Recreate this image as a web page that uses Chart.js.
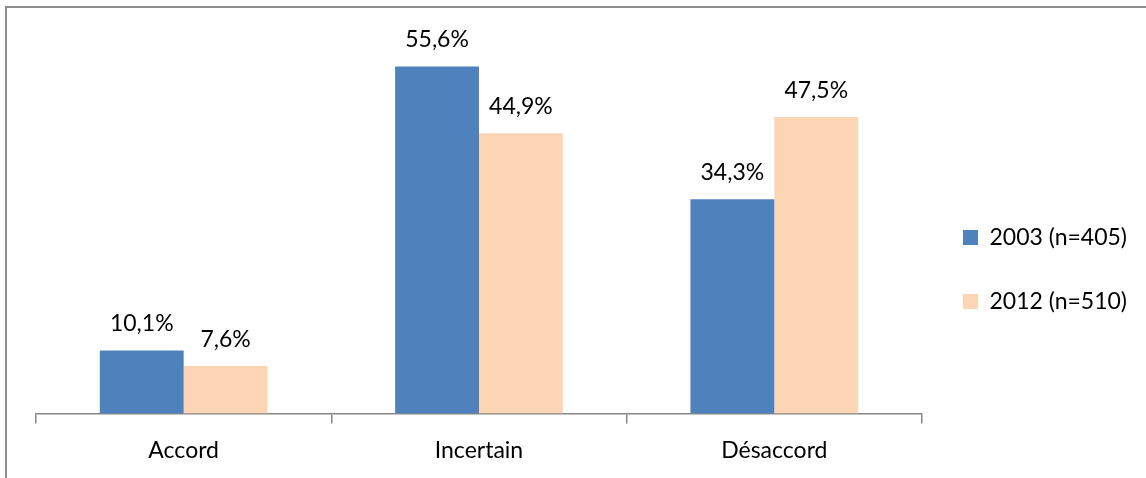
<!DOCTYPE html>
<html>
<head>
<meta charset="utf-8">
<script src="https://cdn.jsdelivr.net/npm/chart.js@4/dist/chart.umd.min.js"></script>
<style>
  body { margin: 0; background: #fff; overflow: hidden; }
  #frame { position: absolute; left: 5px; top: 6px; width: 1160px; height: 500px; border: 2px solid #8e8e8e; }
  #wrap { position: absolute; left: 0; top: 0; width: 1139px; height: 471px; }
</style>
</head>
<body>
<div id="frame"><div id="wrap"><canvas id="myChart"></canvas></div></div>
<script>
// categories and series
var categories = ['Accord', 'Incertain', 'Désaccord'];
var series2003 = [10.1, 55.6, 34.3];
var series2012 = [7.6, 44.9, 47.5];
var legendNames = ['2003 (n=405)', '2012 (n=510)'];

var FONT = 'Lato, "Open Sans", sans-serif';
var FSIZE = 23;

// writes the value above each bar, like excel data labels
var valueLabels = {
    id: 'valueLabels',
    afterDatasetsDraw: function(chart){
        var ctx = chart.ctx;
        ctx.save();
        ctx.font = FSIZE + 'px ' + FONT;
        ctx.fillStyle = '#000';
        ctx.textAlign = 'center';
        ctx.textBaseline = 'alphabetic';
        chart.data.datasets.forEach(function(ds, i){
            chart.getDatasetMeta(i).data.forEach(function(bar, j){
                var txt = ds.data[j].toFixed(1).replace('.', ',') + '%';
                ctx.fillText(txt, bar.x, bar.y - 19);
            });
        });
        ctx.restore();
    }
};

var ctx = document.getElementById('myChart').getContext('2d');
var chart = new Chart(ctx, {
    type: 'bar',
    data: {
        labels: categories,
        datasets: [{
            label: legendNames[0],
            data: series2003,
            backgroundColor: '#4F81BD'
        }, {
            label: legendNames[1],
            data: series2012,
            backgroundColor: '#FCD5B5'
        }]
    },
    plugins: [valueLabels],
    options: {
        responsive: true,
        maintainAspectRatio: false,
        animation: false,
        datasets: { bar: { barPercentage: 1, categoryPercentage: 0.568 } },
        layout: { padding: { left: 29, top: 31, bottom: 2, right: 9 } },
        plugins: {
            tooltip: { enabled: false },
            legend: {
                position: 'right',
                // empty title only pushes the two items down a bit
                title: { display: true, text: '', font: { size: 10 }, padding: { top: 11, bottom: 0 } },
                labels: {
                    boxWidth: 15,
                    boxHeight: 15,
                    padding: 41,
                    color: '#000',
                    font: { family: FONT, size: FSIZE }
                }
            }
        },
        scales: {
            x: {
                offset: true,
                grid: {
                    offset: true,
                    drawOnChartArea: false,
                    tickLength: 10,
                    color: '#868686',
                    lineWidth: 1.5
                },
                border: { color: '#868686', width: 1.5 },
                ticks: { color: '#000', padding: 13, font: { family: FONT, size: FSIZE } }
            },
            y: {
                display: false,
                min: 0,
                max: 60
            }
        }
    }
});
</script>
</body>
</html>
